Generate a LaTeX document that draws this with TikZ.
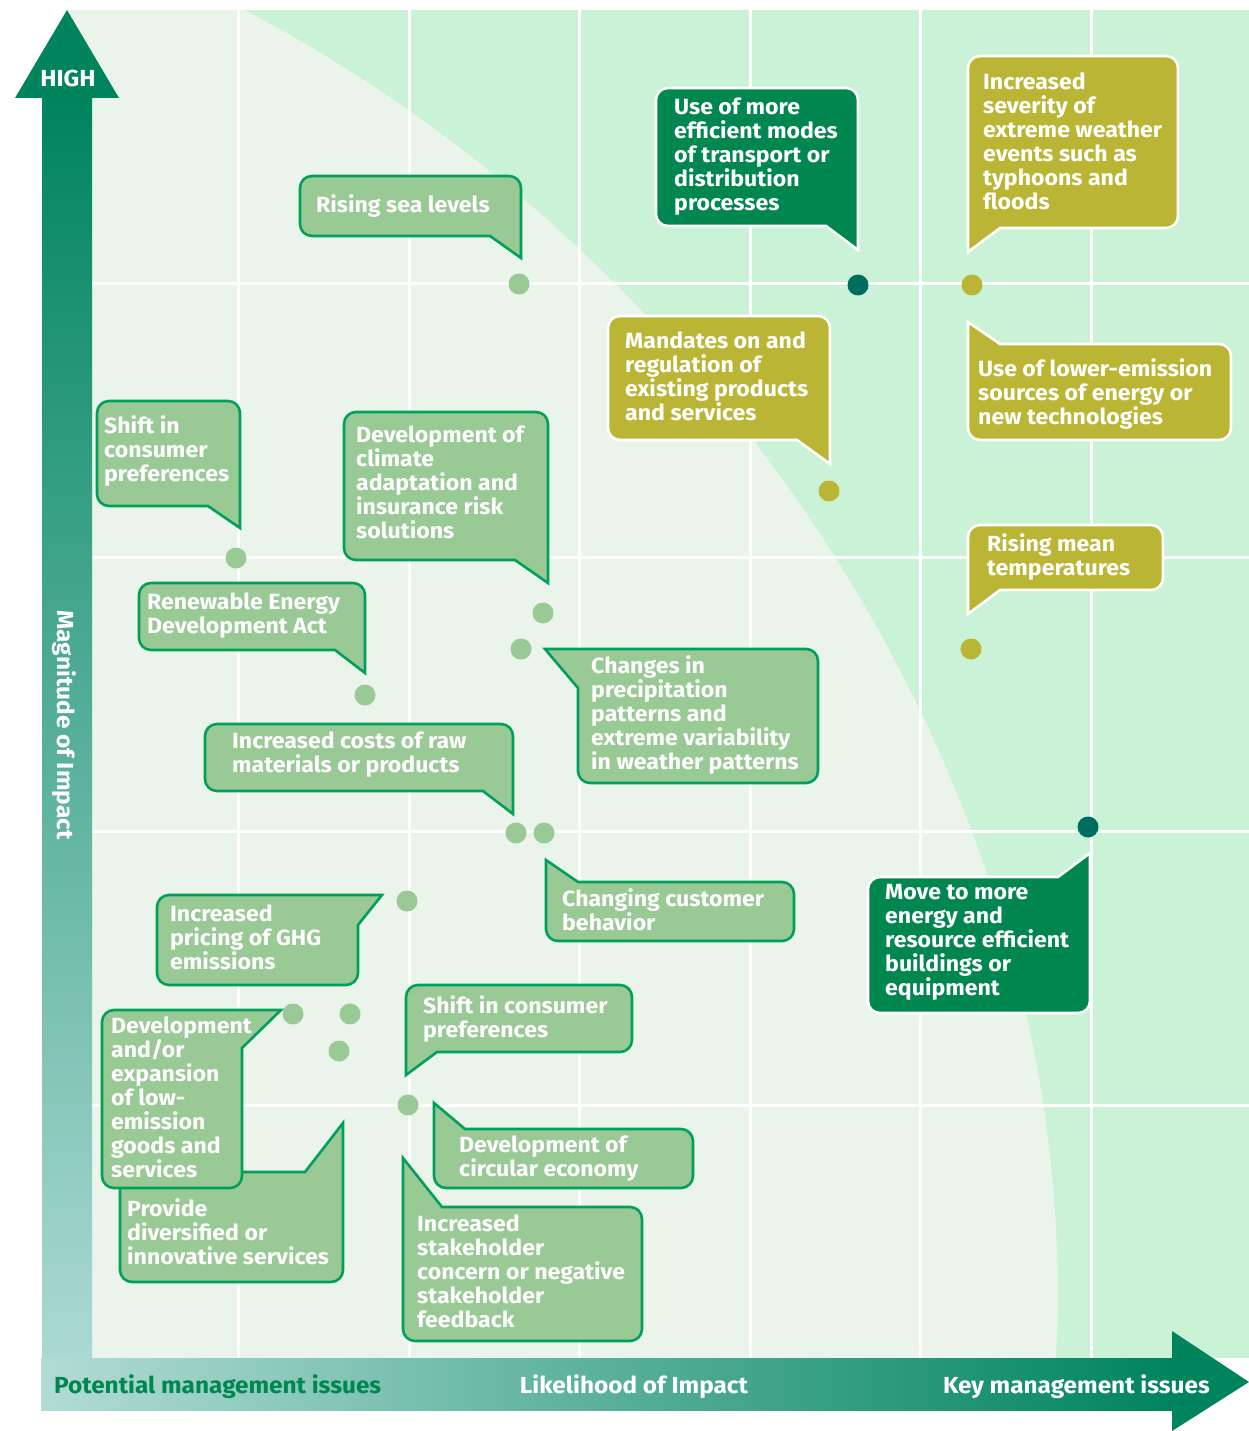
\documentclass[tikz,border=0pt]{standalone}
\usepackage{fontspec}
\setmainfont{Fira Sans}
\newfontfamily\bubfam{Fira Sans}[FakeStretch=1.05]
\usepackage{tikz}
\definecolor{bgpale}{HTML}{EAF4EA}
\definecolor{bgmint}{HTML}{CAF2D6}
\definecolor{axdark}{HTML}{00845E}
\definecolor{axpale}{HTML}{ABD9D3}
\definecolor{barpale}{HTML}{B2DCD6}
\definecolor{bublight}{HTML}{99C994}
\definecolor{bubedge}{HTML}{00A05A}
\definecolor{bubolive}{HTML}{BBB535}
\definecolor{bubdark}{HTML}{00874F}
\definecolor{dotdark}{HTML}{006E5F}
\newcommand\bubfont{\bubfam\fontsize{22}{24}\selectfont\bfseries}
\newcommand\axfont{\bubfam\fontsize{23.2}{28}\selectfont\bfseries}
\newcommand\bubstrut{\rule{0pt}{18pt}}
\tikzset{
	gridln/.style={draw=white, line width=3pt},
	bub/.style={line width=2.6pt, rounded corners=12pt, line join=miter},
	bubl/.style={bub, draw=bubedge, fill=bublight},
	bubo/.style={bub, draw=white, fill=bubolive},
	bubd/.style={bub, draw=white, fill=bubdark},
	bubtxt/.style={font=\bubfont, text=white, align=left, anchor=north west,
		inner sep=0pt, execute at begin node=\bubstrut},
	dotl/.style={fill=bublight},
	doto/.style={fill=bubolive},
	dotd/.style={fill=dotdark},
	axlbl/.style={font=\axfont, inner sep=0pt},
}

\begin{document}
\begin{tikzpicture}[x=1pt, y=-1pt]
				\useasboundingbox (0,0) rectangle (1249,1431);
				% field and grid
				\fill[bgpale] (67,10) rectangle (1249,1358);
				\fill[bgmint] (245,10) .. controls (750,277) and (1085,820) .. (1056,1358) -- (1249,1358) -- (1249,10) -- cycle;
				\foreach \gx in {238,409,579,750,920,1091} \draw[gridln] (\gx,10) -- (\gx,1358);
				\foreach \gy in {283,557,831,1105} \draw[gridln] (92,\gy) -- (1249,\gy);
				% axes
				\shade[top color=axdark, bottom color=axpale] (42,98) rectangle (92,1358);
				\fill[axdark] (67,10) -- (119,98) -- (15,98) -- cycle;
				\shade[left color=barpale, right color=axdark] (41,1358) rectangle (1173,1410);
				\fill[axdark] (1172,1331) -- (1249,1382) -- (1172,1431) -- cycle;
				\node[axlbl, text=white] at (68,78) (high) {HIGH};
				\node[axlbl, text=white, rotate=-90] at (64,725) (mag) {Magnitude of Impact};
				\node[axlbl, text=bubdark, anchor=base west] at (54,1393) (pot) {Potential management issues};
				\node[axlbl, text=white, anchor=base] at (634,1393) (lik) {Likelihood of Impact};
				\node[axlbl, text=white, anchor=base east] at (1210,1393) (key) {Key management issues};
				% bubbles
				\draw[bubl] (300,206) -- (300,176) -- (521,176) -- (521,206) [sharp corners] -- (521,258) -- (490,236) -- (395,236) [rounded corners=12pt] -- (300,236) -- cycle;
				\node[bubtxt] at (316,194) (sea) {Rising sea levels};
				\draw[bubd] (656,157) -- (656,88) -- (858,88) -- (858,157) [sharp corners] -- (858,250) -- (826,226) -- (740,226) [rounded corners=12pt] -- (656,226) -- cycle;
				\node[bubtxt] at (674,98) (trans) {Use of more\\efficient modes\\of transport or\\distribution\\processes};
				\draw[bubo] (1178,142) -- (1178,56) -- (968,56) -- (968,142) [sharp corners] -- (968,252) -- (1000,228) -- (1090,228) [rounded corners=12pt] -- (1178,228) -- cycle;
				\node[bubtxt] at (983,73) (sev) {Increased\\severity of\\extreme weather\\events such as\\typhoons and\\floods};
				\draw[bubo] (608,378) -- (608,316) -- (830,316) -- (830,378) [sharp corners] -- (830,464) -- (797,440) -- (700,440) [rounded corners=12pt] -- (608,440) -- cycle;
				\node[bubtxt] at (625,332) (mand) {Mandates on and\\regulation of\\existing products\\and services};
				\draw[bubo] (1115,440) -- (968,440) -- (968,392) [sharp corners] -- (968,322) -- (1000,344) -- (1115,344) [rounded corners=12pt] -- (1231,344) -- (1231,440) -- cycle;
				\node[bubtxt] at (978,358) (lowem) {Use of lower-emission\\sources of energy or\\new technologies};
				\draw[bubl] (97,453) -- (97,401) -- (240,401) -- (240,453) [sharp corners] -- (240,528) -- (208,506) -- (150,506) [rounded corners=12pt] -- (97,506) -- cycle;
				\node[bubtxt] at (104,415) (pref1) {Shift in\\consumer\\preferences};
				\draw[bubl] (344,486) -- (344,412) -- (548,412) -- (548,486) [sharp corners] -- (548,583) -- (515,560) -- (430,560) [rounded corners=12pt] -- (344,560) -- cycle;
				\node[bubtxt] at (356,426) (adapt) {Development of\\climate\\adaptation and\\insurance risk\\solutions};
				\draw[bubl] (139,616) -- (139,583) -- (365,583) -- (365,616) [sharp corners] -- (365,673) -- (335,650) -- (235,650) [rounded corners=12pt] -- (139,650) -- cycle;
				\node[bubtxt] at (147,593) (renew) {Renewable Energy\\Development Act};
				\draw[bubo] (1163,557) -- (1163,525) -- (968,525) -- (968,557) [sharp corners] -- (968,614) -- (1000,590) -- (1080,590) [rounded corners=12pt] -- (1163,590) -- cycle;
				\node[bubtxt] at (987,533) (temp) {Rising mean\\temperatures};
				\draw[bubl] (818,716) -- (818,649) -- (700,649) [sharp corners] -- (545,649) -- (578,688) -- (578,735) [rounded corners=12pt] -- (578,783) -- (818,783) -- cycle;
				\node[bubtxt] at (591,655) (precip) {Changes in\\precipitation\\patterns and\\extreme variability\\in weather patterns};
				\draw[bubl] (205,757) -- (205,724) -- (513,724) -- (513,757) [sharp corners] -- (513,814) -- (483,791) -- (340,791) [rounded corners=12pt] -- (205,791) -- cycle;
				\node[bubtxt] at (232,732) (costs) {Increased costs of raw\\materials or products};
				\draw[bubl] (690,941) -- (546,941) -- (546,911) [sharp corners] -- (546,860) -- (578,882) -- (690,882) [rounded corners=12pt] -- (794,882) -- (794,941) -- cycle;
				\node[bubtxt] at (562,888) (behav) {Changing customer\\behavior};
				\draw[bubd] (960,1013) -- (1090,1013) -- (1090,945) [sharp corners] -- (1090,853) -- (1058,877) -- (960,877) [rounded corners=12pt] -- (868,877) -- (868,1013) -- cycle;
				\node[bubtxt] at (885,884) (build) {Move to more\\energy and\\resource efficient\\buildings or\\equipment};
				\draw[bubl] (157,940) -- (157,895) -- (250,895) [sharp corners] -- (382,895) -- (358,925) -- (358,955) [rounded corners=12pt] -- (358,985) -- (157,985) -- cycle;
				\node[bubtxt] at (170,905) (ghg) {Increased\\pricing of GHG\\emissions};
				\draw[bubl] (210,1282) -- (343,1282) -- (343,1227) [sharp corners] -- (343,1123) -- (305,1172) -- (210,1172) [rounded corners=12pt] -- (120,1172) -- (120,1282) -- cycle;
				\node[bubtxt] at (127,1198) (divers) {Provide\\diversified or\\innovative services};
				\draw[bubl] (102,1100) -- (102,1010) -- (170,1010) [sharp corners] -- (281,1010) -- (242,1048) -- (242,1118) [rounded corners=12pt] -- (242,1188) -- (102,1188) -- cycle;
				\node[bubtxt] at (111,1017) (goods) {Development\\and/or\\expansion\\of low-\\emission\\goods and\\services};
				\draw[bubl] (632,1018) -- (632,985) -- (406,985) -- (406,1018) [sharp corners] -- (406,1075) -- (437,1052) -- (530,1052) [rounded corners=12pt] -- (632,1052) -- cycle;
				\node[bubtxt] at (423,995) (pref2) {Shift in consumer\\preferences};
				\draw[bubl] (580,1188) -- (434,1188) -- (434,1158) [sharp corners] -- (434,1103) -- (465,1129) -- (580,1129) [rounded corners=12pt] -- (693,1129) -- (693,1188) -- cycle;
				\node[bubtxt] at (459,1136) (circ) {Development of\\circular economy};
				\draw[bubl] (540,1341) -- (403,1341) -- (403,1274) [sharp corners] -- (403,1158) -- (442,1207) -- (540,1207) [rounded corners=12pt] -- (642,1207) -- (642,1341) -- cycle;
				\node[bubtxt] at (417,1215) (stake) {Increased\\stakeholder\\concern or negative\\stakeholder\\feedback};
				% dots
				\foreach \dx/\dy in {519/284,236/558,543/613,521/649,365/695,516/833,544/833,407/901,293/1014,350/1014,339/1051,408/1105}
					\fill[dotl] (\dx,\dy) circle[radius=10.5pt];
				\foreach \dx/\dy in {972/285,829/491,971/649}
					\fill[doto] (\dx,\dy) circle[radius=10.5pt];
				\foreach \dx/\dy in {858/285,1088/827}
					\fill[dotd] (\dx,\dy) circle[radius=10.5pt];
\end{tikzpicture}
\end{document}
